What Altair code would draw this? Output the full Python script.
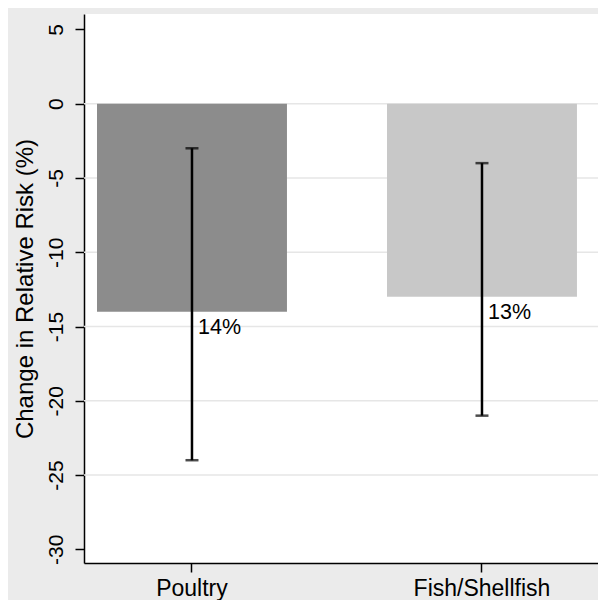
import altair as alt
import pandas as pd

categories = ["Poultry", "Fish/Shellfish"]
values = [-14, -13]
lower = [-24, -21]
upper = [-3, -4]
labels = ["14%", "13%"]
colors = ["#8c8c8c", "#c8c8c8"]
y_ticks = [5, 0, -5, -10, -15, -20, -25, -30]
grid_vals = [0, -5, -10, -15, -20, -25]

df = pd.DataFrame({"cat": categories, "val": values, "lo": lower, "hi": upper, "lab": labels})
gdf = pd.DataFrame({"g": grid_vals})

FONT = "Liberation Sans"
ydom = [-30.92, 6.04]

xenc = alt.X("cat:N", sort=categories,
             scale=alt.Scale(paddingInner=0.345, paddingOuter=0.0587, align=0.382),
             axis=alt.Axis(title=None, labelAngle=0, labelFont=FONT, labelFontSize=23,
                           labelColor="black", tickColor="black", tickSize=9, tickWidth=1.5,
                           domainColor="black", domainWidth=1.5, labelPadding=5, grid=False))
yscale = alt.Scale(domain=ydom, nice=False, zero=False)

grid = alt.Chart(gdf).mark_rule(color="#e6e6e6", strokeWidth=1.5).encode(
    y=alt.Y("g:Q", scale=yscale)
)

bars = alt.Chart(df).mark_bar().encode(
    x=xenc,
    y=alt.Y("val:Q", scale=yscale,
            axis=alt.Axis(title="Change in Relative Risk (%)", values=y_ticks, grid=False,
                          labelExpr="toString(datum.value)",
                          labelAngle=-90, labelAlign="center", labelBaseline="bottom",
                          labelFont=FONT, labelFontSize=21, labelColor="black", labelPadding=9,
                          tickColor="black", tickSize=9, tickWidth=1.5,
                          domainColor="black", domainWidth=1.5,
                          titleFont=FONT, titleFontSize=24, titleFontWeight="normal",
                          titleColor="black", titlePadding=8)),
    y2=alt.datum(0),
    color=alt.Color("cat:N", scale=alt.Scale(domain=categories, range=colors), legend=None),
)

err = alt.Chart(df).mark_rule(color="black", strokeWidth=2.5).encode(
    x=alt.X("cat:N", sort=categories),
    y=alt.Y("lo:Q", scale=yscale),
    y2="hi:Q",
)
cap_lo = alt.Chart(df).mark_tick(color="black", orient="horizontal", size=13, thickness=2.5).encode(
    x=alt.X("cat:N", sort=categories),
    y=alt.Y("lo:Q", scale=yscale),
)
cap_hi = alt.Chart(df).mark_tick(color="black", orient="horizontal", size=13, thickness=2.5).encode(
    x=alt.X("cat:N", sort=categories),
    y=alt.Y("hi:Q", scale=yscale),
)
txt = alt.Chart(df).mark_text(align="left", baseline="middle", dx=6, dy=16,
                              font=FONT, fontSize=21.5, color="black").encode(
    x=alt.X("cat:N", sort=categories),
    y=alt.Y("val:Q", scale=yscale),
    text="lab:N",
)

chart = alt.layer(grid, bars, err, cap_lo, cap_hi, txt).properties(
    width=514, height=549,
    autosize=alt.AutoSizeParams(type="none"),
    padding={"left": 76, "top": 6, "right": 0, "bottom": 37},
    background="#ebebeb",
).configure_view(fill="white", stroke=None)

chart.save("out.html", embed_options={"renderer": "svg", "actions": False})
